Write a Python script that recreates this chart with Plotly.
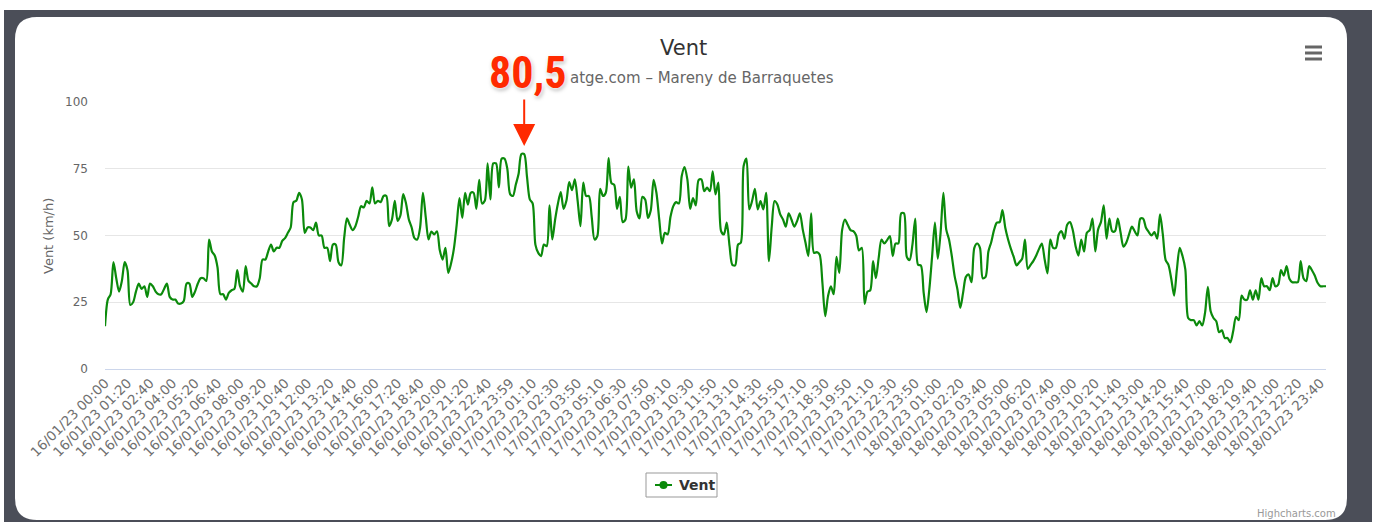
import plotly.graph_objects as go

W, H = 1377, 522
PL, PR, PT, PB = 105, 1326, 102, 369  # plot area in pixels


def day_slots(day):
    slots = [f"{day}/01/23 {h:02d}:{m:02d}" for h in range(24) for m in range(0, 60, 10)]
    return slots + [f"{day}/01/23 23:59"]


categories = day_slots(16) + day_slots(17) + day_slots(18)
tick_labels = categories[::8]

wind = [
    16, 26, 28, 40, 34, 29, 33, 40, 37, 24,
    25, 29, 32, 30, 31, 27, 32, 31, 29, 28,
    28, 30, 32, 27, 26, 26, 24.5, 24.5, 25.5, 32,
    32, 27, 29, 32, 34, 34, 33, 48.5, 44, 42.5,
    38, 28, 28, 26, 28.5, 29.5, 30, 37, 31, 29,
    38.5, 33, 32, 31, 31, 34, 41, 41, 44, 46.6,
    44, 45.4, 45.4, 48, 49, 51, 53, 62.5, 63, 66,
    63.5, 51, 53, 53, 52, 54.8, 50, 50, 45.4, 45.4,
    40.4, 46.6, 46.6, 40, 38.8, 49, 56.4, 54, 52, 53.5,
    57, 61, 60.5, 63, 62, 68, 62, 63, 62.5, 64.8,
    64.8, 53.5, 56, 63, 55.5, 57.5, 65.5, 62, 56, 53,
    49, 48.5, 53, 66, 57, 48.5, 51.5, 50.4, 51.6, 44.5,
    41, 45.4, 36, 39.5, 45, 54, 64, 56.6, 66, 61.6,
    66, 66, 60, 70.8, 62, 63, 77, 63.5, 77, 77,
    68, 78.8, 78.8, 75, 65.5, 64.8, 69, 73, 80.5, 80.5,
    72, 63.5, 62, 46.5, 43.5, 42.3, 46.6, 46, 61.3, 48.5,
    56, 62, 66.3, 60, 63, 70, 67, 71, 63, 53.5,
    69.8, 64.8, 64.8, 57, 48.5, 49.8, 67.5, 64.8, 66, 79,
    69.6, 69, 60, 64.5, 55, 56, 75.8, 67.9, 71, 59,
    56.4, 64.5, 63.5, 56.6, 59.5, 70.8, 66, 56, 47, 51,
    50.4, 57, 61, 62.5, 62, 72.3, 75.6, 71, 60, 64,
    61.3, 70.8, 71, 66.6, 67.9, 66.6, 74, 65.4, 69.8, 51.6,
    50.4, 54.8, 46, 39, 38.8, 46.6, 47.3, 76, 78.8, 59.8,
    62.9, 67.5, 59.8, 62.9, 59.8, 66, 40.4, 53.5, 62.9, 61.6,
    57.9, 56, 53.3, 58.3, 56, 53.3, 55.4, 58.3, 52.3, 47.3,
    42.3, 58.3, 43.5, 43.8, 42.9, 32.3, 19.8, 27.3, 31, 28,
    42, 36, 52, 56, 54, 52, 51.6, 50, 44.4, 45.4,
    24.4, 29, 29.5, 40.4, 34, 41.6, 48.5, 47, 48.3, 49.8,
    42.3, 47, 47, 58.3, 58.3, 42, 40.8, 46.6, 56.3, 39,
    38.8, 28.5, 21.3, 29.8, 42.3, 54.8, 41.3, 51, 66, 52.3,
    48.5, 42.3, 34.8, 29.8, 22.9, 28.5, 34.5, 35.4, 32.5, 45.4,
    47, 45.4, 34, 34.5, 44, 47.5, 52, 54.8, 55, 59.5,
    52.9, 48.5, 45, 42, 38.8, 40, 41.3, 48.5, 37.5, 39,
    40.5, 42.5, 45, 47, 41, 35.8, 48.5, 45.4, 45.4, 50.4,
    51.6, 48.8, 54, 55, 52, 46, 42.5, 48.5, 44, 51,
    52, 56.3, 44, 52.3, 55, 61.3, 48.8, 56.3, 51.6, 51.6,
    56.3, 51, 45.8, 47.3, 50.4, 53.3, 51.6, 50, 56.3, 56.3,
    52.9, 51.3, 50, 51.3, 48.8, 57.9, 50.4, 40.8, 39, 33.8,
    27.5, 37.3, 45.4, 42.3, 37.3, 19.1, 18.3, 18.3, 16.3, 17.9,
    16.3, 21, 30.8, 21.6, 19.1, 17.9, 13.8, 14.5, 11.6, 11.6,
    10, 14.1, 19.5, 18.3, 27.5, 26, 26, 29.5, 26, 29.5,
    26, 34, 31, 31, 29.5, 34, 31, 31.6, 37, 35,
    38.5, 33.8, 32.5, 32.5, 32.5, 40.4, 34, 32.9, 38.5, 37,
    35, 32.3, 31, 31, 31,
]

peak_label = "80,5"
title_text = "Vent"
subtitle_visible = "atge.com – Mareny de Barraquetes"
y_title = "Vent (km/h)"
series_name = "Vent"

LINE = "#0b8a0b"
FONT = "Lucida Grande, DejaVu Sans, sans-serif"


def fx(px):
    return (px - PL) / (PR - PL)


def fy(py):
    return (PB - py) / (PB - PT)


def rounded_rect(x0, y0, x1, y1, r):
    X0, X1 = fx(x0), fx(x1)
    Yt, Yb = fy(y0), fy(y1)
    rx = r / (PR - PL)
    ry = r / (PB - PT)
    return (f"M {X0+rx},{Yt} L {X1-rx},{Yt} Q {X1},{Yt} {X1},{Yt-ry} "
            f"L {X1},{Yb+ry} Q {X1},{Yb} {X1-rx},{Yb} L {X0+rx},{Yb} "
            f"Q {X0},{Yb} {X0},{Yb+ry} L {X0},{Yt-ry} Q {X0},{Yt} {X0+rx},{Yt} Z")


fig = go.Figure()
fig.add_trace(go.Scatter(
    x=categories, y=wind, mode="lines", name=series_name, showlegend=False,
    line=dict(color=LINE, width=2.2, shape="spline", smoothing=0.8),
    hoverinfo="skip",
))

shapes = [
    # outer white strips of the screenshot
    dict(type="rect", xref="paper", yref="paper", x0=fx(0), x1=fx(W), y0=fy(0), y1=fy(10),
         fillcolor="white", line=dict(width=0), layer="below"),
    dict(type="rect", xref="paper", yref="paper", x0=fx(1372), x1=fx(W), y0=fy(0), y1=fy(H),
         fillcolor="white", line=dict(width=0), layer="below"),
    dict(type="rect", xref="paper", yref="paper", x0=fx(0), x1=fx(4), y0=fy(0), y1=fy(H),
         fillcolor="white", line=dict(width=0), layer="below"),
    # white card
    dict(type="path", xref="paper", yref="paper", path=rounded_rect(15, 17, 1347, 520, 22),
         fillcolor="white", line=dict(width=0), layer="below"),
    # legend box (Highcharts style)
    dict(type="rect", xref="paper", yref="paper", x0=fx(646), x1=fx(717), y0=fy(473), y1=fy(497),
         fillcolor="white", line=dict(color="#999999", width=1)),
    dict(type="line", xref="paper", yref="paper", x0=fx(655), x1=fx(672), y0=fy(485), y1=fy(485),
         line=dict(color=LINE, width=2)),
    dict(type="circle", xref="paper", yref="paper", x0=fx(659.5), x1=fx(667.5), y0=fy(481), y1=fy(489),
         fillcolor=LINE, line=dict(color=LINE, width=0)),
]
# hamburger menu icon
for yy in (47, 53, 59):
    shapes.append(dict(type="line", xref="paper", yref="paper", x0=fx(1305), x1=fx(1322),
                       y0=fy(yy), y1=fy(yy), line=dict(color="#666666", width=3)))

annotations = [
    dict(text=title_text, xref="paper", yref="paper", x=fx(683), y=fy(48),
         xanchor="center", yanchor="middle", showarrow=False,
         font=dict(family=FONT, size=21, color="#333333")),
    dict(text=subtitle_visible, xref="paper", yref="paper", x=fx(568), y=fy(78),
         xanchor="left", yanchor="middle", showarrow=False,
         font=dict(family=FONT, size=15, color="#666666")),
    dict(text=y_title, xref="paper", yref="paper", x=fx(48), y=fy(236), textangle=-90,
         xanchor="center", yanchor="middle", showarrow=False,
         font=dict(family=FONT, size=13, color="#666666")),
    dict(text="Highcharts.com", xref="paper", yref="paper", x=fx(1338), y=fy(513),
         xanchor="right", yanchor="middle", showarrow=False,
         font=dict(family=FONT, size=10, color="#999999")),
    dict(text=f"<b>{series_name}</b>", xref="paper", yref="paper", x=fx(677), y=fy(485),
         xanchor="left", yanchor="middle", showarrow=False,
         font=dict(family=FONT, size=14, color="#333333")),
    # red arrow
    dict(text="", x=categories[149], y=83.5, xref="x", yref="y", showarrow=True,
         ax=0, ay=-48, axref="pixel", ayref="pixel", arrowhead=2, arrowsize=2.2,
         arrowwidth=2, arrowcolor="#ff2a00", standoff=0),
    # peak label
    dict(text=f"<b>{peak_label}</b>", xref="paper", yref="paper", x=fx(527), y=fy(73),
         xanchor="center", yanchor="middle", showarrow=False,
         font=dict(family="Liberation Sans Narrow, Roboto Condensed, Roboto, sans-serif",
                   size=44, color="#ff2a00",
                   shadow="0px 0px 3px white, 0px 0px 4px white, 1px 2px 4px rgba(0,0,0,0.35)")),
]

fig.update_layout(
    template="none",
    width=W, height=H,
    margin=dict(l=PL, r=W - PR, t=PT, b=H - PB, pad=0, autoexpand=False),
    paper_bgcolor="#4b4e58",
    plot_bgcolor="rgba(0,0,0,0)",
    shapes=shapes,
    annotations=annotations,
    showlegend=False,
    xaxis=dict(type="category", range=[0, len(categories) - 1], automargin=False,
               tickmode="array", tickvals=tick_labels, ticktext=tick_labels,
               tickangle=-45, showgrid=False, zeroline=False,
               showline=True, linecolor="#ccd6eb", linewidth=1, ticks="",
               tickfont=dict(family=FONT, size=13.5, color="#707070")),
    yaxis=dict(range=[0, 100], automargin=False, tickvals=[0, 25, 50, 75, 100],
               showgrid=True, gridcolor="#e6e6e6", gridwidth=1, zeroline=False,
               showline=False, ticks="", ticklabelstandoff=16,
               tickfont=dict(family=FONT, size=12, color="#666666")),
    hovermode=False,
)

fig.write_html("out.html",
               config={"displayModeBar": False},
               post_script="document.body.style.margin='0px';document.body.style.padding='0px';")
